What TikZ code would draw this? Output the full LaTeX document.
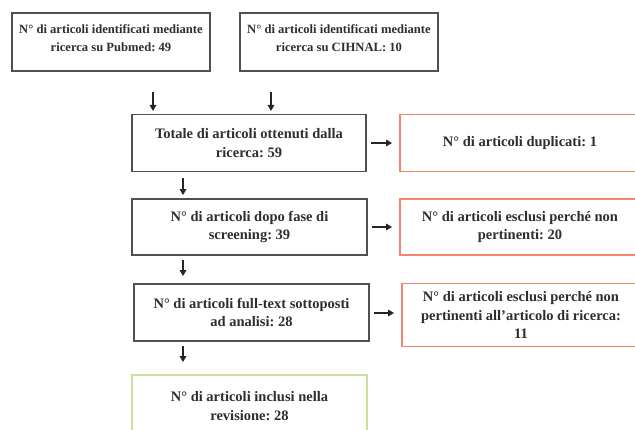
\documentclass[tikz,border=0pt]{standalone}
\usepackage{fontspec}
\setmainfont{Liberation Serif}
\frenchspacing
\usetikzlibrary{arrows.meta}
\definecolor{boxgray}{HTML}{505050}
\definecolor{txtgray}{HTML}{2E2E2E}
\definecolor{salmon}{HTML}{F2866E}
\definecolor{lgreen}{HTML}{C8E29E}
\tikzset{
  base/.style={rectangle, line width=1.8pt, fill=white, align=center, inner sep=0pt,
    font=\fontsize{14.5}{18.5}\selectfont\bfseries, text=txtgray},
  graybox/.style={base, draw=boxgray},
  toptext/.style={base, draw=none, fill=none, font=\fontsize{12.6}{17.5}\selectfont\bfseries},
  redbox/.style={base, draw=salmon},
  greenbox/.style={base, draw=lgreen},
  arr/.style={line width=1.5pt, draw=black!85, -{Triangle[length=6pt,width=6.5pt]}},
}
\begin{document}
\begin{tikzpicture}[x=1pt,y=-1pt]
\useasboundingbox (0,0) rectangle (635,430);
\clip (0,0) rectangle (635,430);
\fill[white] (0,0) rectangle (635,430);
% boxes
\node[graybox, minimum width=198pt, minimum height=58pt] (b1) at (111,42) {};
\node[graybox, minimum width=198pt, minimum height=58pt] (b2) at (339,42) {};
\node[toptext] (b1t) at ([yshift=4pt]b1.center)
  {N° di articoli identificati mediante\\ricerca su Pubmed: 49};
\node[toptext] (b2t) at ([yshift=4pt]b2.center)
  {N° di articoli identificati mediante\\ricerca su CIHNAL: 10};
\node[graybox, minimum width=234pt, minimum height=57pt] (b3) at (249,143)
  {Totale di articoli ottenuti dalla\\ricerca: 59};
\node[redbox, minimum width=240pt, minimum height=57pt] (r1) at (520,143)
  {N° di articoli duplicati: 1};
\node[graybox, minimum width=235pt, minimum height=56pt] (b4) at (249.5,227)
  {N° di articoli dopo fase di\\screening: 39};
\node[redbox, minimum width=240pt, minimum height=56pt] (r2) at (520,227)
  {N° di articoli esclusi perché non\\pertinenti: 20};
\node[graybox, minimum width=235pt, minimum height=57pt] (b5) at (251.5,312.5)
  {N° di articoli full-text sottoposti\\ad analisi: 28};
\node[redbox, minimum width=238pt, minimum height=63pt] (r3) at (521,315)
  {N° di articoli esclusi perché non\\pertinenti all'articolo di ricerca:\\11};
\node[greenbox, minimum width=235pt, minimum height=62pt] (g) at (249.5,406)
  {N° di articoli inclusi nella\\revisione: 28};
% free arrow ends
\coordinate (t1s) at (153,92);
\coordinate (t1e) at (153,111);
\coordinate (t2s) at (271,92);
\coordinate (t2e) at (271,111);
\coordinate (ax) at (183,0);
\coordinate (ay) at (0,313);
% arrows
\draw[arr] (t1s) -- (t1e);
\draw[arr] (t2s) -- (t2e);
\draw[arr, shorten <=4pt, shorten >=7pt] (b3.east) -- (r1.west);
\draw[arr, shorten <=4pt, shorten >=7pt] (b4.east) -- (r2.west);
\draw[arr, shorten <=4pt, shorten >=7pt] (b5.east |- ay) -- (r3.west |- ay);
\draw[arr, shorten <=6pt, shorten >=3pt] (b3.south -| ax) -- (b4.north -| ax);
\draw[arr, shorten <=4pt, shorten >=7pt] (b4.south -| ax) -- (b5.north -| ax);
\draw[arr, shorten <=4pt, shorten >=12pt] (b5.south -| ax) -- (g.north -| ax);
\end{tikzpicture}
\end{document}
